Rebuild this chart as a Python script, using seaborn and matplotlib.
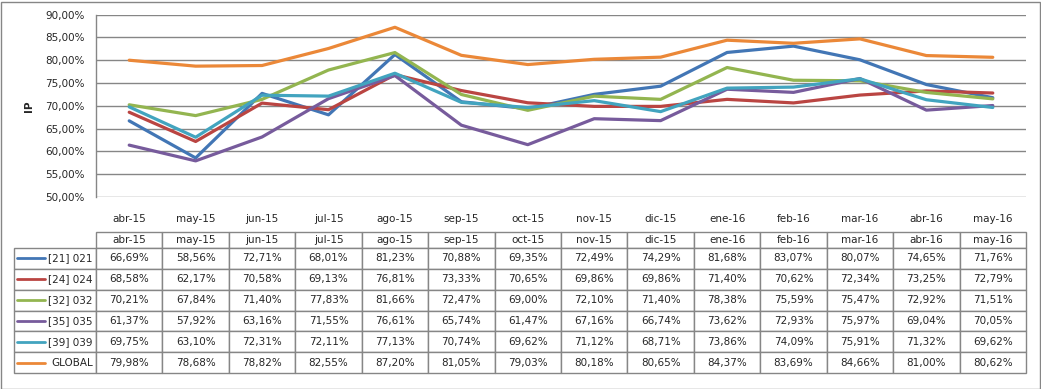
import matplotlib
matplotlib.use("Agg")
import matplotlib.pyplot as plt
import seaborn as sns
import pandas as pd
from matplotlib.table import Table
from matplotlib.patches import Rectangle
from matplotlib.lines import Line2D

meses = ["abr-15", "may-15", "jun-15", "jul-15", "ago-15", "sep-15", "oct-15",
         "nov-15", "dic-15", "ene-16", "feb-16", "mar-16", "abr-16", "may-16"]

serie_021 = [66.69, 58.56, 72.71, 68.01, 81.23, 70.88, 69.35, 72.49, 74.29, 81.68, 83.07, 80.07, 74.65, 71.76]
serie_024 = [68.58, 62.17, 70.58, 69.13, 76.81, 73.33, 70.65, 69.86, 69.86, 71.40, 70.62, 72.34, 73.25, 72.79]
serie_032 = [70.21, 67.84, 71.40, 77.83, 81.66, 72.47, 69.00, 72.10, 71.40, 78.38, 75.59, 75.47, 72.92, 71.51]
serie_035 = [61.37, 57.92, 63.16, 71.55, 76.61, 65.74, 61.47, 67.16, 66.74, 73.62, 72.93, 75.97, 69.04, 70.05]
serie_039 = [69.75, 63.10, 72.31, 72.11, 77.13, 70.74, 69.62, 71.12, 68.71, 73.86, 74.09, 75.91, 71.32, 69.62]
serie_global = [79.98, 78.68, 78.82, 82.55, 87.20, 81.05, 79.03, 80.18, 80.65, 84.37, 83.69, 84.66, 81.00, 80.62]

nombres = ["[21] 021", "[24] 024", "[32] 032", "[35] 035", "[39] 039", "GLOBAL"]
series = [serie_021, serie_024, serie_032, serie_035, serie_039, serie_global]
colores = ["#4276B5", "#BA4542", "#93B550", "#775B9C", "#42A4BF", "#EB8838"]

filas = []
for nombre, valores in zip(nombres, series):
    for i, v in enumerate(valores):
        filas.append({"mes": meses[i], "pos": i, "serie": nombre, "ip": v})
df = pd.DataFrame(filas)

sns.set_style("white")
plt.rcParams["font.family"] = ["DejaVu Sans"]

W, H = 1041, 389
fig = plt.figure(figsize=(W / 100, H / 100), dpi=100)

# marco exterior
fig.patches.append(Rectangle((0.5 / W, 0.5 / H), 1 - 1.5 / W, 1 - 2.5 / H,
                             transform=fig.transFigure, fill=False,
                             edgecolor="#868686", linewidth=1))

ax = fig.add_axes([96 / W, 1 - 197 / H, (1026 - 96) / W, (197 - 14.5) / H])
sns.lineplot(data=df, x="pos", y="ip", hue="serie", palette=colores,
             hue_order=nombres, linewidth=2.3, legend=False, ax=ax, sort=False)

ax.set_xlim(-0.5, len(meses) - 0.5)
ax.set_ylim(50, 90)
ax.set_yticks(range(50, 91, 5))
ax.set_yticklabels([f"{v:.2f}%".replace(".", ",") for v in range(50, 91, 5)])
ax.set_xticks(range(len(meses)))
ax.set_xticklabels(meses)
ax.tick_params(axis="both", length=0, labelsize=7.5, colors="#262626")
ax.tick_params(axis="x", pad=12)
ax.tick_params(axis="y", pad=8)
ax.grid(axis="y", color="#868686", linewidth=1)
ax.set_axisbelow(True)
ax.set_xlabel("")
ax.set_ylabel("IP", fontsize=7.5, fontweight="bold", labelpad=8)
for lado in ["top", "right", "bottom"]:
    ax.spines[lado].set_visible(False)
ax.spines["left"].set_color("#868686")
ax.spines["left"].set_linewidth(1)

# tabla de datos
tax = fig.add_axes([14 / W, 1 - 373 / H, (1026 - 14) / W, (373 - 232) / H])
tax.axis("off")
tabla = Table(tax, bbox=[0, 0, 1, 1])
ancho_etiqueta = 82
ancho_col = (1026 - 96) / len(meses)
alto_cab = 16
alto_fila = 20.8

celda = tabla.add_cell(0, 0, ancho_etiqueta, alto_cab, text="")
celda.visible_edges = ""
for j, m in enumerate(meses):
    tabla.add_cell(0, j + 1, ancho_col, alto_cab, text=m, loc="center")
for i, (nombre, valores) in enumerate(zip(nombres, series)):
    c = tabla.add_cell(i + 1, 0, ancho_etiqueta, alto_fila, text=nombre, loc="right")
    c.PAD = 0.04
    for j, v in enumerate(valores):
        tabla.add_cell(i + 1, j + 1, ancho_col, alto_fila,
                       text=f"{v:.2f}%".replace(".", ","), loc="center")

tabla.auto_set_font_size(False)
tabla.set_fontsize(7.5)
for celda in tabla.get_celld().values():
    celda.set_edgecolor("#868686")
    celda.set_linewidth(1)
    celda.get_text().set_color("#262626")
tax.add_table(tabla)

# claves de leyenda en la tabla
alto_total = alto_cab + alto_fila * len(nombres)
for i, color in enumerate(colores):
    yc = 1 - (alto_cab + alto_fila * (i + 0.5)) / alto_total
    tax.add_line(Line2D([3 / 1012, 31 / 1012], [yc, yc], color=color,
                        linewidth=2.0, transform=tax.transAxes))

fig.savefig("out.png", dpi=100)
